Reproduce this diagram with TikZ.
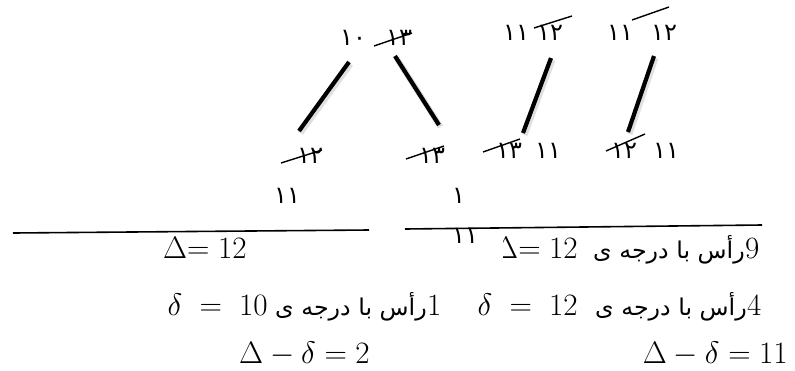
\documentclass[tikz,border=0pt]{standalone}
\usepackage{fontspec}
\usepackage{graphicx}
\newfontfamily\arabicfont[Script=Arabic]{DejaVu Sans}
\TeXXeTstate=1
\newcommand{\farsiwords}{\scalebox{1.08}[1.05]{\beginR رأس با درجه ی\endR}}
\newcommand{\bigmath}[1]{\scalebox{1.25}{$#1$}}
\begin{document}
\begin{tikzpicture}[x=1pt,y=-1pt,
  num/.style={font=\arabicfont\fontsize{24}{26}\selectfont, inner sep=0pt, anchor=base west},
  edge/.style={line width=4.2pt},
  shade/.style={line width=6pt, black!12},
  strike/.style={line width=1.4pt},
  eq/.style={font=\fontsize{24.88}{30}\selectfont, inner sep=0pt, anchor=base east},
  digit/.style={font=\fontsize{31}{36}\selectfont, inner sep=0pt, anchor=base west},
  fa/.style={font=\arabicfont\fontsize{22}{26}\selectfont, inner sep=0pt, anchor=base east},
  rule/.style={line width=1.6pt}]
\useasboundingbox (0,0) rectangle (795,370);

% ---- first graph (star) ----
\node[num] (t1a) at (340,45) {۱۰};
\node[num] (t1b) at (386,45) {۱۳};
\coordinate (s1a) at (374,46); \coordinate (s1b) at (412,33);
\draw[strike] (s1a) -- (s1b);
\coordinate (e1a) at (349,62); \coordinate (e1b) at (299,131);
\coordinate (e2a) at (395,56); \coordinate (e2b) at (439,125);
\draw[shade] ([shift={(1.5,2)}]e1a) -- ([shift={(1.5,2)}]e1b);
\draw[shade] ([shift={(1.5,2)}]e2a) -- ([shift={(1.5,2)}]e2b);
\draw[edge] (e1a) -- (e1b);
\draw[edge] (e2a) -- (e2b);
\node[num] (b1) at (297,163) {۱۲};
\coordinate (s2a) at (281,163); \coordinate (s2b) at (322,150);
\draw[strike] (s2a) -- (s2b);
\node[num] (b2) at (419,163) {۱۳};
\coordinate (s3a) at (406,159); \coordinate (s3b) at (444,146);
\draw[strike] (s3a) -- (s3b);
\node[num] (c1) at (274,203) {۱۱};
\node[num] (c2) at (452,203) {۱};
\node[num] (c3) at (452,243) {۱۱};

% ---- second graph ----
\node[num] (t3a) at (503,40) {۱۱};
\node[num] (t3b) at (537,40) {۱۲};
\coordinate (o1a) at (534,28); \coordinate (o1b) at (572,16);
\draw[strike] (o1a) -- (o1b);
\coordinate (e3a) at (551,58); \coordinate (e3b) at (523,133);
\draw[shade] ([shift={(1.5,2)}]e3a) -- ([shift={(1.5,2)}]e3b);
\draw[edge] (e3a) -- (e3b);
\node[num] (b3a) at (496,158) {۱۳};
\coordinate (s4a) at (483,152); \coordinate (s4b) at (520,139);
\draw[strike] (s4a) -- (s4b);
\node[num] (b3b) at (535,158) {۱۱};

% ---- third graph ----
\node[num] (t4a) at (607,40) {۱۱};
\node[num] (t4b) at (651,40) {۱۲};
\coordinate (o2a) at (632,20); \coordinate (o2b) at (669,7);
\draw[strike] (o2a) -- (o2b);
\coordinate (e4a) at (654,56); \coordinate (e4b) at (628,132);
\draw[shade] ([shift={(1.5,2)}]e4a) -- ([shift={(1.5,2)}]e4b);
\draw[edge] (e4a) -- (e4b);
\node[num] (b4a) at (611,158) {۱۲};
\coordinate (s5a) at (606,151); \coordinate (s5b) at (645,134);
\draw[strike] (s5a) -- (s5b);
\node[num] (b4b) at (653,158) {۱۱};

% ---- rules ----
\coordinate (l1a) at (13,233); \coordinate (l1b) at (369,230);
\coordinate (l2a) at (405,229); \coordinate (l2b) at (762,225);
\draw[rule] (l1a) -- (l1b);
\draw[rule] (l2a) -- (l2b);

% ---- row 1 ----
\begin{scope}
  \clip (150,234) rectangle (245,270);
  \node[eq, anchor=base west] (r1m) at (163,258) {\bigmath{\Delta{=}\;12}};
\end{scope}
\begin{scope}
  \clip (503,234) rectangle (586,270);
  \node[eq] (r1r) at (578,258) {\bigmath{\Delta{=}\;12}};
\end{scope}
\node[digit] (r1n) at (745,258) {9};
\node[fa] (r1f) at (r1n.base west) {\farsiwords};

% ---- row 2 ----
\node[eq] (r2m) at (268,315) {\bigmath{\delta \;=\; 10}};
\node[digit] (r2n) at (427,315) {1};
\node[fa] (r2f) at (r2n.base west) {\farsiwords};
\node[eq] (r3m) at (578,315) {\bigmath{\delta \;=\; 12}};
\node[digit] (r3n) at (747,315) {4};
\node[fa] (r3f) at (r3n.base west) {\farsiwords};

% ---- row 3 ----
\node[eq] (r4) at (370,363) {\bigmath{\Delta - \delta = 2}};
\node[eq] (r5) at (788,363) {\bigmath{\Delta - \delta = 11}};
\end{tikzpicture}
\end{document}
